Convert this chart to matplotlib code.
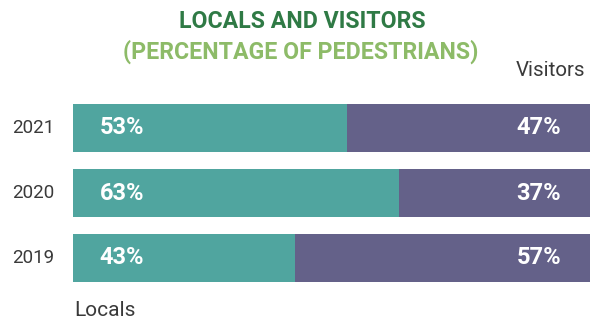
import matplotlib
matplotlib.use("Agg")
import matplotlib.pyplot as plt

years = ["2019", "2020", "2021"]
locals_pct = [43, 63, 53]
visitors_pct = [57, 37, 47]

title1 = "LOCALS AND VISITORS"
title2 = "(PERCENTAGE OF PEDESTRIANS)"

plt.rcParams['font.family'] = ['Roboto', 'DejaVu Sans']

TEAL = "#50A59F"
PURPLE = "#646189"
DARKG = "#2F7A45"
LIGHTG = "#8DBB68"
GREY = "#3a3a3a"

fig = plt.figure(figsize=(5.91, 3.22), dpi=100)
W, H = 591, 322
ax = fig.add_axes([73 / W, 1 - 290.5 / H, (591 - 73) / W, (290.5 - 95.5) / H])

ypos = list(range(len(years)))
ax.barh(ypos, locals_pct, height=0.74, color=TEAL, left=0)
ax.barh(ypos, visitors_pct, height=0.74, color=PURPLE, left=locals_pct)
ax.set_xlim(0, 100.2)
ax.set_ylim(-0.5, 2.5)
ax.axis("off")

for y, lv, vv, yr in zip(ypos, locals_pct, visitors_pct, years):
    ax.text(5.2, y, f"{lv}%", color="white", fontsize=17, fontweight="bold",
            va="center", ha="left")
    ax.text(94.4, y, f"{vv}%", color="white", fontsize=17, fontweight="bold",
            va="center", ha="right")
    ax.text(-3.6, y, yr, color=GREY, fontsize=13.5,
            va="center", ha="right")

fig.text(302 / W, 1 - 22 / H, title1, color=DARKG, fontsize=16.7, fontweight="bold",
         ha="center", va="center")
fig.text(301 / W, 1 - 52 / H, title2, color=LIGHTG, fontsize=16.7, fontweight="bold",
         ha="center", va="center")
fig.text(585 / W, 1 - 70 / H, "Visitors", color=GREY, fontsize=14.8, ha="right", va="center")
fig.text(74 / W, 1 - 310 / H, "Locals", color=GREY, fontsize=15, ha="left", va="center")

fig.savefig("out.png", dpi=100)
